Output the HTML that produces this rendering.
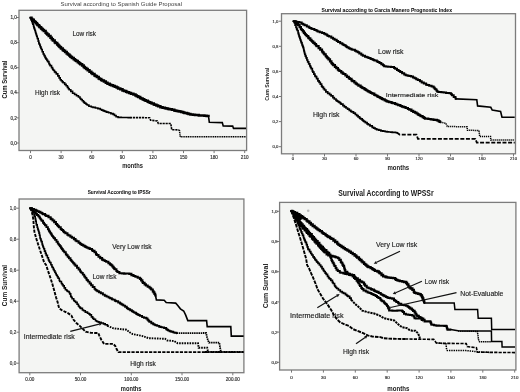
<!DOCTYPE html>
<html><head><meta charset="utf-8"><style>
html,body{margin:0;padding:0;background:#fff;}
svg{display:block;filter:blur(0.3px);}
</style></head><body>
<svg width="520" height="392" viewBox="0 0 520 392" font-family="Liberation Sans, sans-serif">
<rect width="520" height="392" fill="#fff"/>
<rect x="19.0" y="10.3" width="227.6" height="140.2" fill="#f4f5f3" stroke="#7c7c7c" stroke-width="1.3"/>
<line x1="16.4" y1="143.0" x2="19.0" y2="143.0" stroke="#777" stroke-width="1"/>
<text x="16.8" y="144.6" font-size="4.6" font-weight="normal" fill="#3a3a3a" text-anchor="end" stroke="#3a3a3a" stroke-width="0.18">0,0</text>
<line x1="16.4" y1="117.9" x2="19.0" y2="117.9" stroke="#777" stroke-width="1"/>
<text x="16.8" y="119.5" font-size="4.6" font-weight="normal" fill="#3a3a3a" text-anchor="end" stroke="#3a3a3a" stroke-width="0.18">0,2</text>
<line x1="16.4" y1="92.8" x2="19.0" y2="92.8" stroke="#777" stroke-width="1"/>
<text x="16.8" y="94.39999999999999" font-size="4.6" font-weight="normal" fill="#3a3a3a" text-anchor="end" stroke="#3a3a3a" stroke-width="0.18">0,4</text>
<line x1="16.4" y1="67.7" x2="19.0" y2="67.7" stroke="#777" stroke-width="1"/>
<text x="16.8" y="69.3" font-size="4.6" font-weight="normal" fill="#3a3a3a" text-anchor="end" stroke="#3a3a3a" stroke-width="0.18">0,6</text>
<line x1="16.4" y1="42.6" x2="19.0" y2="42.6" stroke="#777" stroke-width="1"/>
<text x="16.8" y="44.199999999999996" font-size="4.6" font-weight="normal" fill="#3a3a3a" text-anchor="end" stroke="#3a3a3a" stroke-width="0.18">0,8</text>
<line x1="16.4" y1="17.5" x2="19.0" y2="17.5" stroke="#777" stroke-width="1"/>
<text x="16.8" y="19.1" font-size="4.6" font-weight="normal" fill="#3a3a3a" text-anchor="end" stroke="#3a3a3a" stroke-width="0.18">1,0</text>
<line x1="30.5" y1="150.5" x2="30.5" y2="153.1" stroke="#777" stroke-width="1"/>
<text x="30.5" y="158.5" font-size="4.6" font-weight="normal" fill="#3a3a3a" text-anchor="middle" stroke="#3a3a3a" stroke-width="0.18">0</text>
<line x1="61.1" y1="150.5" x2="61.1" y2="153.1" stroke="#777" stroke-width="1"/>
<text x="61.1" y="158.5" font-size="4.6" font-weight="normal" fill="#3a3a3a" text-anchor="middle" stroke="#3a3a3a" stroke-width="0.18">30</text>
<line x1="91.7" y1="150.5" x2="91.7" y2="153.1" stroke="#777" stroke-width="1"/>
<text x="91.7" y="158.5" font-size="4.6" font-weight="normal" fill="#3a3a3a" text-anchor="middle" stroke="#3a3a3a" stroke-width="0.18">60</text>
<line x1="122.3" y1="150.5" x2="122.3" y2="153.1" stroke="#777" stroke-width="1"/>
<text x="122.3" y="158.5" font-size="4.6" font-weight="normal" fill="#3a3a3a" text-anchor="middle" stroke="#3a3a3a" stroke-width="0.18">90</text>
<line x1="152.9" y1="150.5" x2="152.9" y2="153.1" stroke="#777" stroke-width="1"/>
<text x="152.9" y="158.5" font-size="4.6" font-weight="normal" fill="#3a3a3a" text-anchor="middle" stroke="#3a3a3a" stroke-width="0.18">120</text>
<line x1="183.5" y1="150.5" x2="183.5" y2="153.1" stroke="#777" stroke-width="1"/>
<text x="183.5" y="158.5" font-size="4.6" font-weight="normal" fill="#3a3a3a" text-anchor="middle" stroke="#3a3a3a" stroke-width="0.18">150</text>
<line x1="214.1" y1="150.5" x2="214.1" y2="153.1" stroke="#777" stroke-width="1"/>
<text x="214.1" y="158.5" font-size="4.6" font-weight="normal" fill="#3a3a3a" text-anchor="middle" stroke="#3a3a3a" stroke-width="0.18">180</text>
<line x1="244.7" y1="150.5" x2="244.7" y2="153.1" stroke="#777" stroke-width="1"/>
<text x="244.70000000000002" y="158.5" font-size="4.6" font-weight="normal" fill="#3a3a3a" text-anchor="middle" stroke="#3a3a3a" stroke-width="0.18">210</text>
<text x="60.4" y="6.2" font-size="6" font-weight="normal" fill="#444" text-anchor="start" textLength="121.6" lengthAdjust="spacingAndGlyphs">Survival according to Spanish Guide Proposal</text>
<text x="7.2" y="79.6" font-size="6.6" font-weight="bold" fill="#222" text-anchor="middle" textLength="38" lengthAdjust="spacingAndGlyphs" transform="rotate(-90 7.2 79.6)">Cum Survival</text>
<text x="132.6" y="167.8" font-size="6.6" font-weight="bold" fill="#222" text-anchor="middle" textLength="20.7" lengthAdjust="spacingAndGlyphs">months</text>
<text x="72.5" y="35.5" font-size="7" font-weight="normal" fill="#222" text-anchor="start" textLength="23.5" lengthAdjust="spacingAndGlyphs" stroke="#222" stroke-width="0.14">Low risk</text>
<text x="35" y="95.2" font-size="7" font-weight="normal" fill="#222" text-anchor="start" textLength="25" lengthAdjust="spacingAndGlyphs" stroke="#222" stroke-width="0.14">High risk</text>
<polyline points="30.4,17.8 31.5,17.8 31.5,18.9 32.3,18.9 32.3,19.8 33.8,19.8 33.8,21.2 34.6,21.2 34.6,22.0 35.9,22.0 35.9,23.3 37.0,23.3 37.0,24.5 37.8,24.5 37.8,25.2 39.1,25.2 39.1,26.5 39.8,26.5 39.8,27.2 41.1,27.2 41.1,28.4 41.9,28.4 41.9,29.1 42.7,29.1 42.7,29.9 43.9,29.9 43.9,31.1 45.6,31.1 45.6,32.7 46.4,32.7 46.4,33.6 47.3,33.6 47.3,34.6 48.7,34.6 48.7,36.0 50.5,36.0 50.5,37.8 51.8,37.8 51.8,39.2 52.9,39.2 52.9,40.4 54.7,40.4 54.7,42.2 55.5,42.2 55.5,43.0 57.2,43.0 57.2,44.6 58.2,44.6 58.2,45.6 59.1,45.6 59.1,46.5 60.0,46.5 60.0,47.3 61.0,47.3 61.0,48.4 62.7,48.4 62.7,50.0 63.7,50.0 63.7,50.8 65.1,50.8 65.1,52.1 66.7,52.1 66.7,53.4 67.9,53.4 67.9,54.4 69.3,54.4 69.3,55.6 70.2,55.6 70.2,56.4 71.0,56.4 71.0,57.1 72.0,57.1 72.0,57.9 73.7,57.9 73.7,59.2 75.0,59.2 75.0,60.2 76.2,60.2 76.2,61.1 77.8,61.1 77.8,62.3 79.1,62.3 79.1,63.3 80.3,63.3 80.3,64.2 82.1,64.2 82.1,65.6 83.7,65.6 83.7,67.0 84.8,67.0 84.8,67.9 86.3,67.9 86.3,69.1 87.7,69.1 87.7,70.3 89.5,70.3 89.5,71.8 91.3,71.8 91.3,73.1 92.5,73.1 92.5,74.0 94.5,74.0 94.5,75.4 95.5,75.4 95.5,76.1 96.9,76.1 96.9,77.1 98.7,77.1 98.7,78.4 99.7,78.4 99.7,79.1 101.2,79.1 101.2,80.1 102.1,80.1 102.1,80.6 103.9,80.6 103.9,81.6 105.8,81.6 105.8,82.8 107.5,82.8 107.5,83.7 109.7,83.7 109.7,84.7 111.1,84.7 111.1,85.3 113.0,85.3 113.0,86.1 114.8,86.1 114.8,86.8 116.6,86.8 116.6,87.6 118.1,87.6 118.1,88.4 120.3,88.4 120.3,89.3 122.5,89.3 122.5,90.4 124.1,90.4 124.1,91.1 126.1,91.1 126.1,91.8 127.1,91.8 127.1,92.2 129.1,92.2 129.1,93.0 131.0,93.0 131.0,93.7 133.4,93.7 133.4,94.6 135.5,94.6 135.5,95.5 136.8,95.5 136.8,96.2 138.3,96.2 138.3,96.9 140.1,96.9 140.1,97.9 141.0,97.9 141.0,98.4 142.6,98.4 142.6,99.2 143.7,99.2 143.7,99.7 144.7,99.7 144.7,100.3 145.7,100.3 145.7,100.8 147.7,100.8 147.7,101.7 148.9,101.7 148.9,102.2 150.1,102.2 150.1,102.7 151.6,102.7 151.6,103.4 153.8,103.4 153.8,104.4 154.8,104.4 154.8,104.8 156.4,104.8 156.4,105.5 158.1,105.5 158.1,106.3 160.4,106.3 160.4,107.2 162.6,107.2 162.6,107.7 164.9,107.7 164.9,108.2 166.3,108.2 166.3,108.6 168.0,108.6 168.0,108.9 169.5,108.9 169.5,109.3 171.9,109.3 171.9,109.8 174.3,109.8 174.3,110.4 175.5,110.4 175.5,110.7 176.8,110.7 176.8,111.0 178.1,111.0 178.1,111.3 179.5,111.3 179.5,111.6 181.2,111.6 181.2,112.0 183.1,112.0 183.1,112.5 184.4,112.5 184.4,112.9 185.4,112.9 185.4,113.1 187.0,113.1 187.0,113.6 188.5,113.6 188.5,114.0 190.4,114.0 190.4,114.4 192.9,114.4 192.9,114.7 195.0,114.7 195.0,114.9 196.8,114.9 196.8,115.1 198.8,115.1 198.8,115.4 200.9,115.4 200.9,115.5 201.9,115.5 201.9,115.6 204.4,115.6 204.4,115.8 206.6,115.8 206.6,116.0 208.5,116.0 208.5,116.1" fill="none" stroke="#000" stroke-width="2.5" stroke-linecap="round" stroke-linejoin="miter"/>
<polyline points="208.5,116.1 209.3,122.3 222.3,122.6 223.2,125.9 232.7,126.1 233.5,128.4 246.0,128.4" fill="none" stroke="#000" stroke-width="1.6" stroke-linecap="butt" stroke-linejoin="miter"/>
<polyline points="30.4,17.8 31.2,17.8 31.2,19.9 31.8,19.9 31.8,21.4 32.4,21.4 32.4,23.0 32.8,23.0 32.8,24.1 33.5,24.1 33.5,26.0 33.8,26.0 33.8,27.0 34.1,27.0 34.1,28.1 34.5,28.1 34.5,29.3 34.9,29.3 34.9,30.5 35.4,30.5 35.4,32.0 35.7,32.0 35.7,33.0 36.0,33.0 36.0,34.0 36.4,34.0 36.4,35.2 36.7,35.2 36.7,36.3 37.2,36.3 37.2,37.8 37.5,37.8 37.5,38.8 38.2,38.8 38.2,41.1 38.8,41.1 38.8,43.0 39.2,43.0 39.2,44.1 39.8,44.1 39.8,45.4 40.3,45.4 40.3,46.9 40.9,46.9 40.9,48.3 41.4,48.3 41.4,49.5 42.2,49.5 42.2,51.7 43.2,51.7 43.2,54.0 44.1,54.0 44.1,55.6 45.0,55.6 45.0,57.1 45.5,57.1 45.5,58.1 46.1,58.1 46.1,59.1 46.9,59.1 46.9,60.4 47.7,60.4 47.7,61.6 48.9,61.6 48.9,63.6 49.6,63.6 49.6,64.7 50.1,64.7 50.1,65.6 51.5,65.6 51.5,67.6 52.6,67.6 52.6,69.2 53.3,69.2 53.3,70.2 54.4,70.2 54.4,71.6 55.1,71.6 55.1,72.4 56.3,72.4 56.3,73.9 57.8,73.9 57.8,75.9 59.1,75.9 59.1,77.9 60.2,77.9 60.2,79.7 61.2,79.7 61.2,80.8 62.3,80.8 62.3,81.9 63.1,81.9 63.1,82.8 64.7,82.8 64.7,84.4 66.1,84.4 66.1,85.7 67.4,85.7 67.4,87.4 68.4,87.4 68.4,88.7 69.2,88.7 69.2,89.7 70.8,89.7 70.8,91.4 72.6,91.4 72.6,93.2 74.6,93.2 74.6,94.5 76.5,94.5 76.5,95.8 78.4,95.8 78.4,97.0 80.0,97.0 80.0,98.5 80.9,98.5 80.9,99.5 82.2,99.5 82.2,100.8 83.4,100.8 83.4,101.9 84.1,101.9 84.1,102.6 84.9,102.6 84.9,103.3 86.1,103.3 86.1,104.2 87.2,104.2 87.2,105.0 88.9,105.0 88.9,106.3 91.3,106.3 91.3,107.0 93.0,107.0 93.0,107.4 95.4,107.4 95.4,108.0 97.9,108.0 97.9,108.6 100.3,108.6 100.3,109.5 101.7,109.5 101.7,110.1 103.0,110.1 103.0,110.6 104.2,110.6 104.2,111.1 105.5,111.1 105.5,111.6 106.7,111.6 106.7,112.1 108.6,112.1 108.6,112.8 110.9,112.8 110.9,113.6 113.1,113.6 113.1,114.4 114.5,114.4 114.5,115.5 116.1,115.5 116.1,116.7 118.1,116.7 118.1,117.4 119.3,117.4 119.3,117.4 121.3,117.4 121.3,117.5 123.8,117.5 123.8,117.5 126.0,117.5 126.0,117.5 128.2,117.5 128.2,117.6 130.0,117.6 130.0,117.6 130.0,117.6 130.0,117.6" fill="none" stroke="#000" stroke-width="1.6" stroke-linecap="round" stroke-linejoin="miter"/>
<polyline points="130.0,117.6 149.6,117.7 150.6,120.2 157.3,121.0 158.3,123.5 170.8,123.5 171.7,129.6 179.4,130.0" fill="none" stroke="#000" stroke-width="1.6" stroke-linecap="butt" stroke-linejoin="miter" stroke-dasharray="2.2,0.8"/>
<polyline points="179.4,130.0 180.2,136.7 246.0,136.7" fill="none" stroke="#000" stroke-width="1.5" stroke-linecap="butt" stroke-linejoin="miter" stroke-dasharray="1.2,0.6"/>
<rect x="281.5" y="13.7" width="234.0" height="140.10000000000002" fill="#f4f5f3" stroke="#7c7c7c" stroke-width="1.3"/>
<line x1="278.9" y1="146.7" x2="281.5" y2="146.7" stroke="#777" stroke-width="1"/>
<text x="278.4" y="148.29999999999998" font-size="4.2" font-weight="normal" fill="#3a3a3a" text-anchor="end" stroke="#3a3a3a" stroke-width="0.18">0,0</text>
<line x1="278.9" y1="121.6" x2="281.5" y2="121.6" stroke="#777" stroke-width="1"/>
<text x="278.4" y="123.19999999999999" font-size="4.2" font-weight="normal" fill="#3a3a3a" text-anchor="end" stroke="#3a3a3a" stroke-width="0.18">0,2</text>
<line x1="278.9" y1="96.5" x2="281.5" y2="96.5" stroke="#777" stroke-width="1"/>
<text x="278.4" y="98.09999999999998" font-size="4.2" font-weight="normal" fill="#3a3a3a" text-anchor="end" stroke="#3a3a3a" stroke-width="0.18">0,4</text>
<line x1="278.9" y1="71.4" x2="281.5" y2="71.4" stroke="#777" stroke-width="1"/>
<text x="278.4" y="72.99999999999999" font-size="4.2" font-weight="normal" fill="#3a3a3a" text-anchor="end" stroke="#3a3a3a" stroke-width="0.18">0,6</text>
<line x1="278.9" y1="46.3" x2="281.5" y2="46.3" stroke="#777" stroke-width="1"/>
<text x="278.4" y="47.899999999999984" font-size="4.2" font-weight="normal" fill="#3a3a3a" text-anchor="end" stroke="#3a3a3a" stroke-width="0.18">0,8</text>
<line x1="278.9" y1="21.2" x2="281.5" y2="21.2" stroke="#777" stroke-width="1"/>
<text x="278.4" y="22.79999999999999" font-size="4.2" font-weight="normal" fill="#3a3a3a" text-anchor="end" stroke="#3a3a3a" stroke-width="0.18">1,0</text>
<line x1="293.0" y1="153.8" x2="293.0" y2="156.4" stroke="#777" stroke-width="1"/>
<text x="293.0" y="159.6" font-size="4.2" font-weight="normal" fill="#3a3a3a" text-anchor="middle" stroke="#3a3a3a" stroke-width="0.18">0</text>
<line x1="324.5" y1="153.8" x2="324.5" y2="156.4" stroke="#777" stroke-width="1"/>
<text x="324.5" y="159.6" font-size="4.2" font-weight="normal" fill="#3a3a3a" text-anchor="middle" stroke="#3a3a3a" stroke-width="0.18">30</text>
<line x1="356.0" y1="153.8" x2="356.0" y2="156.4" stroke="#777" stroke-width="1"/>
<text x="356.0" y="159.6" font-size="4.2" font-weight="normal" fill="#3a3a3a" text-anchor="middle" stroke="#3a3a3a" stroke-width="0.18">60</text>
<line x1="387.5" y1="153.8" x2="387.5" y2="156.4" stroke="#777" stroke-width="1"/>
<text x="387.5" y="159.6" font-size="4.2" font-weight="normal" fill="#3a3a3a" text-anchor="middle" stroke="#3a3a3a" stroke-width="0.18">90</text>
<line x1="419.0" y1="153.8" x2="419.0" y2="156.4" stroke="#777" stroke-width="1"/>
<text x="419.0" y="159.6" font-size="4.2" font-weight="normal" fill="#3a3a3a" text-anchor="middle" stroke="#3a3a3a" stroke-width="0.18">120</text>
<line x1="450.5" y1="153.8" x2="450.5" y2="156.4" stroke="#777" stroke-width="1"/>
<text x="450.5" y="159.6" font-size="4.2" font-weight="normal" fill="#3a3a3a" text-anchor="middle" stroke="#3a3a3a" stroke-width="0.18">150</text>
<line x1="482.0" y1="153.8" x2="482.0" y2="156.4" stroke="#777" stroke-width="1"/>
<text x="482.0" y="159.6" font-size="4.2" font-weight="normal" fill="#3a3a3a" text-anchor="middle" stroke="#3a3a3a" stroke-width="0.18">180</text>
<line x1="513.5" y1="153.8" x2="513.5" y2="156.4" stroke="#777" stroke-width="1"/>
<text x="513.5" y="159.6" font-size="4.2" font-weight="normal" fill="#3a3a3a" text-anchor="middle" stroke="#3a3a3a" stroke-width="0.18">210</text>
<text x="321.5" y="12.1" font-size="5.2" font-weight="bold" fill="#111" text-anchor="start" textLength="130.5" lengthAdjust="spacingAndGlyphs" stroke="#111" stroke-width="0.05">Survival according to Garcia Manero Prognostic Index</text>
<text x="269.5" y="84.2" font-size="5.4" font-weight="bold" fill="#222" text-anchor="middle" textLength="33" lengthAdjust="spacingAndGlyphs" transform="rotate(-90 269.5 84.2)">Cum Survival</text>
<text x="398.3" y="169.5" font-size="6.4" font-weight="bold" fill="#222" text-anchor="middle" textLength="21.8" lengthAdjust="spacingAndGlyphs">months</text>
<text x="378.1" y="54.2" font-size="7" font-weight="normal" fill="#222" text-anchor="start" textLength="25.4" lengthAdjust="spacingAndGlyphs" stroke="#222" stroke-width="0.14">Low risk</text>
<text x="385.7" y="96.8" font-size="6.2" font-weight="normal" fill="#222" text-anchor="start" textLength="52.7" lengthAdjust="spacingAndGlyphs" stroke="#222" stroke-width="0.14">Intermediate risk</text>
<text x="312.9" y="116.8" font-size="7" font-weight="normal" fill="#222" text-anchor="start" textLength="26.6" lengthAdjust="spacingAndGlyphs" stroke="#222" stroke-width="0.14">High risk</text>
<polyline points="293.5,21.3 295.7,21.3 295.7,21.8 297.2,21.8 297.2,22.1 299.4,22.1 299.4,22.6 301.7,22.6 301.7,23.7 303.2,23.7 303.2,24.5 304.6,24.5 304.6,25.3 306.8,25.3 306.8,26.4 308.8,26.4 308.8,27.4 309.9,27.4 309.9,27.9 311.0,27.9 311.0,28.4 312.2,28.4 312.2,28.9 314.4,28.9 314.4,29.9 316.5,29.9 316.5,30.8 317.6,30.8 317.6,31.4 319.7,31.4 319.7,32.3 322.1,32.3 322.1,33.1 324.1,33.1 324.1,33.8 325.5,33.8 325.5,34.4 327.1,34.4 327.1,35.4 328.2,35.4 328.2,35.9 329.1,35.9 329.1,36.4 331.3,36.4 331.3,37.8 333.0,37.8 333.0,38.8 334.6,38.8 334.6,39.8 336.7,39.8 336.7,41.1 338.1,41.1 338.1,42.0 340.2,42.0 340.2,43.2 342.3,43.2 342.3,44.3 343.5,44.3 343.5,44.9 344.7,44.9 344.7,45.6 345.9,45.6 345.9,46.4 347.0,46.4 347.0,47.2 348.6,47.2 348.6,48.3 349.9,48.3 349.9,48.8 351.5,48.8 351.5,49.4 352.6,49.4 352.6,49.8 354.9,49.8 354.9,50.8 356.3,50.8 356.3,51.4 357.8,51.4 357.8,52.3 359.3,52.3 359.3,53.6 361.3,53.6 361.3,54.8 362.8,54.8 362.8,55.7 365.0,55.7 365.0,56.7 366.7,56.7 366.7,57.3 368.4,57.3 368.4,57.9 370.2,57.9 370.2,58.6 371.1,58.6 371.1,59.0 372.7,59.0 372.7,59.7 373.9,59.7 373.9,60.2 374.8,60.2 374.8,60.6 376.8,60.6 376.8,61.6 378.0,61.6 378.0,62.1 379.5,62.1 379.5,63.0 381.3,63.0 381.3,64.2 382.9,64.2 382.9,65.3 384.1,65.3 384.1,66.2 385.8,66.2 385.8,66.6 387.7,66.6 387.7,66.7 390.0,66.7 390.0,66.8 391.1,66.8 391.1,66.9 393.0,66.9 393.0,67.0 394.1,67.0 394.1,67.9 395.2,67.9 395.2,68.8 397.0,68.8 397.0,70.1 398.6,70.1 398.6,71.1 400.2,71.1 400.2,72.0 402.1,72.0 402.1,73.2 404.2,73.2 404.2,74.4 405.7,74.4 405.7,75.2 407.6,75.2 407.6,75.7 409.4,75.7 409.4,76.1 411.1,76.1 411.1,76.6 413.0,76.6 413.0,77.6 414.6,77.6 414.6,78.3 416.2,78.3 416.2,79.2 417.8,79.2 417.8,80.0 419.9,80.0 419.9,81.3 421.7,81.3 421.7,82.4 423.8,82.4 423.8,83.6 426.1,83.6 426.1,84.7 427.4,84.7 427.4,85.1 429.2,85.1 429.2,85.7 431.6,85.7 431.6,86.5 433.6,86.5 433.6,87.5 434.5,87.5 434.5,88.4 435.2,88.4 435.2,89.3 436.4,89.3 436.4,90.6 437.1,90.6 437.1,91.4 438.3,91.4 438.3,92.0 439.4,92.0 439.4,92.1 441.4,92.1 441.4,92.3 443.7,92.3 443.7,92.6 446.1,92.6 446.1,92.9 447.3,92.9 447.3,93.0 449.5,93.0 449.5,93.2 451.1,93.2 451.1,94.3 452.0,94.3 452.0,95.2 453.7,95.2 453.7,96.9 455.5,96.9 455.5,98.6 455.8,98.6 455.8,98.9" fill="none" stroke="#000" stroke-width="2.0" stroke-linecap="round" stroke-linejoin="miter"/>
<polyline points="455.8,98.9 476.8,99.8 477.6,105.9 490.8,107.3 492.2,110.1 500.6,111.5 502.0,117.2 514.7,117.2" fill="none" stroke="#000" stroke-width="1.6" stroke-linecap="butt" stroke-linejoin="miter"/>
<polyline points="293.5,21.3 295.5,21.3 295.5,22.8 296.8,22.8 296.8,23.8 298.1,23.8 298.1,25.1 299.6,25.1 299.6,27.1 300.9,27.1 300.9,29.0 301.7,29.0 301.7,30.0 302.8,30.0 302.8,31.4 303.9,31.4 303.9,32.8 304.9,32.8 304.9,34.0 305.7,34.0 305.7,35.0 306.7,35.0 306.7,36.1 308.2,36.1 308.2,37.7 308.9,37.7 308.9,38.4 310.3,38.4 310.3,39.8 311.5,39.8 311.5,41.0 312.2,41.0 312.2,41.7 313.3,41.7 313.3,42.8 314.7,42.8 314.7,44.2 316.0,44.2 316.0,45.5 316.7,45.5 316.7,46.2 318.6,46.2 318.6,48.1 320.2,48.1 320.2,49.7 322.0,49.7 322.0,51.5 322.7,51.5 322.7,52.4 323.6,52.4 323.6,53.5 324.3,53.5 324.3,54.3 325.7,54.3 325.7,56.1 326.6,56.1 326.6,57.2 327.4,57.2 327.4,58.1 328.5,58.1 328.5,59.4 330.0,59.4 330.0,61.3 331.4,61.3 331.4,63.1 332.3,63.1 332.3,64.2 333.2,64.2 333.2,65.1 334.9,65.1 334.9,66.9 336.3,66.9 336.3,68.2 337.9,68.2 337.9,69.6 338.7,69.6 338.7,70.3 339.6,70.3 339.6,71.0 341.2,71.0 341.2,72.3 342.6,72.3 342.6,73.3 343.5,73.3 343.5,74.0 345.4,74.0 345.4,75.5 347.0,75.5 347.0,76.8 348.8,76.8 348.8,78.2 349.7,78.2 349.7,78.9 351.5,78.9 351.5,80.4 352.4,80.4 352.4,81.1 354.3,81.1 354.3,82.5 355.7,82.5 355.7,83.6 356.9,83.6 356.9,84.5 358.4,84.5 358.4,85.6 360.6,85.6 360.6,86.9 361.8,86.9 361.8,87.6 362.8,87.6 362.8,88.2 364.4,88.2 364.4,89.2 365.6,89.2 365.6,89.9 366.6,89.9 366.6,90.5 367.7,90.5 367.7,91.1 368.6,91.1 368.6,91.7 369.8,91.7 369.8,92.3 371.1,92.3 371.1,93.0 372.4,93.0 372.4,93.7 374.3,93.7 374.3,94.8 375.6,94.8 375.6,95.5 377.2,95.5 377.2,96.4 378.3,96.4 378.3,97.0 379.7,97.0 379.7,97.7 380.6,97.7 380.6,98.2 381.8,98.2 381.8,98.9 382.8,98.9 382.8,99.3 384.7,99.3 384.7,100.3 386.3,100.3 386.3,101.2 387.5,101.2 387.5,101.7 389.2,101.7 389.2,102.2 391.6,102.2 391.6,102.9 392.7,102.9 392.7,103.2 395.0,103.2 395.0,103.9 396.5,103.9 396.5,104.5 398.2,104.5 398.2,105.1 400.4,105.1 400.4,106.0 401.9,106.0 401.9,106.6 403.6,106.6 403.6,107.2 405.6,107.2 405.6,108.0 407.9,108.0 407.9,109.0 409.3,109.0 409.3,109.7 411.4,109.7 411.4,110.8 413.2,110.8 413.2,111.8 415.0,111.8 415.0,112.7 416.5,112.7 416.5,113.5 417.8,113.5 417.8,114.3 418.7,114.3 418.7,114.9 419.8,114.9 419.8,115.5 420.7,115.5 420.7,116.1 422.6,116.1 422.6,117.2 423.8,117.2 423.8,117.9 424.9,117.9 424.9,118.6 426.0,118.6 426.0,118.7 428.3,118.7 428.3,119.0 430.7,119.0 430.7,119.3 432.8,119.3 432.8,119.6 434.2,119.6 434.2,119.8 435.6,119.8 435.6,119.9 436.9,119.9 436.9,120.4 438.5,120.4 438.5,121.2 439.6,121.2 439.6,121.8 440.3,121.8 440.3,122.2" fill="none" stroke="#000" stroke-width="2.2" stroke-linecap="round" stroke-linejoin="miter"/>
<polyline points="440.3,122.2 445.9,123.3 447.3,126.5 467.0,126.8 467.5,130.2 479.0,130.5 479.7,136.5 490.5,136.5 490.8,140.0 514.7,140.0" fill="none" stroke="#000" stroke-width="1.5" stroke-linecap="butt" stroke-linejoin="miter" stroke-dasharray="1.2,0.8"/>
<polyline points="293.9,21.3 294.3,21.3 294.3,22.7 295.1,22.7 295.1,25.1 296.0,25.1 296.0,27.5 296.7,27.5 296.7,29.2 297.2,29.2 297.2,30.5 298.1,30.5 298.1,32.9 298.5,32.9 298.5,34.3 299.0,34.3 299.0,35.8 299.3,35.8 299.3,36.8 299.8,36.8 299.8,38.3 300.3,38.3 300.3,40.0 300.9,40.0 300.9,41.7 301.4,41.7 301.4,42.9 302.0,42.9 302.0,44.6 302.4,44.6 302.4,45.6 302.9,45.6 302.9,46.9 303.3,46.9 303.3,48.0 303.7,48.0 303.7,49.5 303.9,49.5 303.9,50.6 304.2,50.6 304.2,51.6 304.5,51.6 304.5,53.0 304.8,53.0 304.8,54.4 305.4,54.4 305.4,56.2 306.1,56.2 306.1,57.9 306.9,57.9 306.9,60.0 307.7,60.0 307.7,61.8 308.7,61.8 308.7,63.8 309.8,63.8 309.8,65.9 310.5,65.9 310.5,67.4 311.2,67.4 311.2,68.7 312.3,68.7 312.3,71.0 312.9,71.0 312.9,72.1 313.9,72.1 313.9,74.1 314.9,74.1 314.9,75.8 315.5,75.8 315.5,76.7 316.6,76.7 316.6,78.7 317.9,78.7 317.9,80.8 319.1,80.8 319.1,82.4 320.3,82.4 320.3,84.2 321.6,84.2 321.6,86.1 322.3,86.1 322.3,87.1 323.4,87.1 323.4,88.6 324.5,88.6 324.5,90.0 325.9,90.0 325.9,91.9 327.7,91.9 327.7,93.3 329.6,93.3 329.6,94.7 331.1,94.7 331.1,95.8 332.9,95.8 332.9,97.6 334.3,97.6 334.3,99.0 336.0,99.0 336.0,100.3 337.1,100.3 337.1,101.1 338.0,101.1 338.0,101.7 339.0,101.7 339.0,102.4 340.3,102.4 340.3,103.3 341.1,103.3 341.1,104.1 342.9,104.1 342.9,105.6 344.4,105.6 344.4,106.8 346.0,106.8 346.0,108.0 347.6,108.0 347.6,109.2 349.3,109.2 349.3,110.4 350.8,110.4 350.8,111.3 351.7,111.3 351.7,111.9 353.5,111.9 353.5,113.2 355.3,113.2 355.3,114.5 356.7,114.5 356.7,115.6 358.1,115.6 358.1,116.9 359.6,116.9 359.6,118.2 360.5,118.2 360.5,118.9 362.2,118.9 362.2,120.2 363.3,120.2 363.3,121.1 364.2,121.1 364.2,121.7 365.4,121.7 365.4,122.6 367.1,122.6 367.1,123.9 368.2,123.9 368.2,124.7 370.0,124.7 370.0,125.9 372.2,125.9 372.2,127.3 373.7,127.3 373.7,128.1 375.2,128.1 375.2,128.8 376.7,128.8 376.7,129.6 378.8,129.6 378.8,130.2 380.9,130.2 380.9,130.8 382.9,130.8 382.9,131.1 384.9,131.1 384.9,131.5 386.0,131.5 386.0,131.7 387.2,131.7 387.2,131.9 388.6,131.9 388.6,132.0 390.8,132.0 390.8,132.2 392.2,132.2 392.2,132.3 394.2,132.3 394.2,132.4 395.2,132.4 395.2,132.5 396.3,132.5 396.3,132.6 396.8,132.6 396.8,132.6" fill="none" stroke="#000" stroke-width="1.7" stroke-linecap="round" stroke-linejoin="miter"/>
<polyline points="396.8,132.6 399.6,134.6 416.5,134.6 417.9,138.8 475.4,138.8 476.8,142.6 514.7,142.6" fill="none" stroke="#000" stroke-width="1.8" stroke-linecap="butt" stroke-linejoin="miter" stroke-dasharray="4,1.6"/>
<rect x="19.1" y="199.0" width="224.8" height="173.7" fill="#f4f5f3" stroke="#7c7c7c" stroke-width="1.3"/>
<line x1="16.5" y1="363.2" x2="19.1" y2="363.2" stroke="#777" stroke-width="1"/>
<text x="16.2" y="364.8" font-size="4.6" font-weight="normal" fill="#3a3a3a" text-anchor="end" stroke="#3a3a3a" stroke-width="0.18">0,0</text>
<line x1="16.5" y1="332.2" x2="19.1" y2="332.2" stroke="#777" stroke-width="1"/>
<text x="16.2" y="333.8" font-size="4.6" font-weight="normal" fill="#3a3a3a" text-anchor="end" stroke="#3a3a3a" stroke-width="0.18">0,2</text>
<line x1="16.5" y1="301.2" x2="19.1" y2="301.2" stroke="#777" stroke-width="1"/>
<text x="16.2" y="302.8" font-size="4.6" font-weight="normal" fill="#3a3a3a" text-anchor="end" stroke="#3a3a3a" stroke-width="0.18">0,4</text>
<line x1="16.5" y1="270.2" x2="19.1" y2="270.2" stroke="#777" stroke-width="1"/>
<text x="16.2" y="271.8" font-size="4.6" font-weight="normal" fill="#3a3a3a" text-anchor="end" stroke="#3a3a3a" stroke-width="0.18">0,6</text>
<line x1="16.5" y1="239.2" x2="19.1" y2="239.2" stroke="#777" stroke-width="1"/>
<text x="16.2" y="240.79999999999998" font-size="4.6" font-weight="normal" fill="#3a3a3a" text-anchor="end" stroke="#3a3a3a" stroke-width="0.18">0,8</text>
<line x1="16.5" y1="208.2" x2="19.1" y2="208.2" stroke="#777" stroke-width="1"/>
<text x="16.2" y="209.79999999999998" font-size="4.6" font-weight="normal" fill="#3a3a3a" text-anchor="end" stroke="#3a3a3a" stroke-width="0.18">1,0</text>
<line x1="29.8" y1="372.7" x2="29.8" y2="375.3" stroke="#777" stroke-width="1"/>
<text x="29.8" y="380.6" font-size="4.6" font-weight="normal" fill="#3a3a3a" text-anchor="middle" stroke="#3a3a3a" stroke-width="0.18">0.00</text>
<line x1="80.5" y1="372.7" x2="80.5" y2="375.3" stroke="#777" stroke-width="1"/>
<text x="80.55" y="380.6" font-size="4.6" font-weight="normal" fill="#3a3a3a" text-anchor="middle" stroke="#3a3a3a" stroke-width="0.18">50.00</text>
<line x1="131.3" y1="372.7" x2="131.3" y2="375.3" stroke="#777" stroke-width="1"/>
<text x="131.29999999999998" y="380.6" font-size="4.6" font-weight="normal" fill="#3a3a3a" text-anchor="middle" stroke="#3a3a3a" stroke-width="0.18">100.00</text>
<line x1="182.0" y1="372.7" x2="182.0" y2="375.3" stroke="#777" stroke-width="1"/>
<text x="182.04999999999998" y="380.6" font-size="4.6" font-weight="normal" fill="#3a3a3a" text-anchor="middle" stroke="#3a3a3a" stroke-width="0.18">150.00</text>
<line x1="232.8" y1="372.7" x2="232.8" y2="375.3" stroke="#777" stroke-width="1"/>
<text x="232.79999999999998" y="380.6" font-size="4.6" font-weight="normal" fill="#3a3a3a" text-anchor="middle" stroke="#3a3a3a" stroke-width="0.18">200.00</text>
<text x="87.7" y="194.3" font-size="5.4" font-weight="bold" fill="#111" text-anchor="start" textLength="63" lengthAdjust="spacingAndGlyphs" stroke="#111" stroke-width="0.05">Survival According to IPSSr</text>
<text x="6.7" y="285.5" font-size="6.6" font-weight="bold" fill="#222" text-anchor="middle" textLength="41.3" lengthAdjust="spacingAndGlyphs" transform="rotate(-90 6.7 285.5)">Cum Survival</text>
<text x="131.2" y="391.2" font-size="6.6" font-weight="bold" fill="#222" text-anchor="middle" textLength="20.7" lengthAdjust="spacingAndGlyphs">months</text>
<text x="112.2" y="248.8" font-size="7" font-weight="normal" fill="#222" text-anchor="start" textLength="39.4" lengthAdjust="spacingAndGlyphs" stroke="#222" stroke-width="0.14">Very Low risk</text>
<text x="92.5" y="278.9" font-size="7" font-weight="normal" fill="#222" text-anchor="start" textLength="23.9" lengthAdjust="spacingAndGlyphs" stroke="#222" stroke-width="0.14">Low risk</text>
<text x="23.8" y="339.1" font-size="7" font-weight="normal" fill="#222" text-anchor="start" textLength="51" lengthAdjust="spacingAndGlyphs" stroke="#222" stroke-width="0.14">Intermediate risk</text>
<text x="130.2" y="365.5" font-size="7" font-weight="normal" fill="#222" text-anchor="start" textLength="25.7" lengthAdjust="spacingAndGlyphs" stroke="#222" stroke-width="0.14">High risk</text>
<polyline points="30.0,208.3 31.9,208.3 31.9,209.0 33.9,209.0 33.9,209.8 35.8,209.8 35.8,210.6 37.2,210.6 37.2,211.2 38.8,211.2 38.8,211.9 40.4,211.9 40.4,212.7 41.9,212.7 41.9,213.5 43.0,213.5 43.0,214.1 45.1,214.1 45.1,215.3 46.2,215.3 46.2,215.9 48.5,215.9 48.5,217.2 50.6,217.2 50.6,218.6 51.3,218.6 51.3,219.3 52.6,219.3 52.6,220.5 54.2,220.5 54.2,222.1 55.9,222.1 55.9,224.0 57.1,224.0 57.1,225.3 58.1,225.3 58.1,226.3 59.0,226.3 59.0,227.2 60.7,227.2 60.7,229.0 61.7,229.0 61.7,230.0 63.1,230.0 63.1,231.3 64.0,231.3 64.0,232.2 65.4,232.2 65.4,233.3 67.4,233.3 67.4,234.8 68.5,234.8 68.5,235.5 70.4,235.5 70.4,236.7 71.9,236.7 71.9,237.7 73.9,237.7 73.9,239.1 75.5,239.1 75.5,240.5 76.6,240.5 76.6,241.3 78.6,241.3 78.6,242.7 80.1,242.7 80.1,243.7 80.9,243.7 80.9,244.3 81.8,244.3 81.8,244.9 83.3,244.9 83.3,245.8 84.8,245.8 84.8,246.6 86.1,246.6 86.1,247.3 87.2,247.3 87.2,247.8 88.6,247.8 88.6,248.4 90.0,248.4 90.0,249.0 92.0,249.0 92.0,250.3 92.8,250.3 92.8,250.9 94.5,250.9 94.5,252.3 96.0,252.3 96.0,254.1 96.7,254.1 96.7,255.0 98.5,255.0 98.5,256.7 100.2,256.7 100.2,258.1 102.1,258.1 102.1,259.6 103.3,259.6 103.3,260.3 104.8,260.3 104.8,261.0 106.2,261.0 106.2,261.8 108.4,261.8 108.4,263.2 109.9,263.2 109.9,264.4 111.2,264.4 111.2,265.3 112.3,265.3 112.3,266.5 113.3,266.5 113.3,267.6 114.0,267.6 114.0,268.4 114.7,268.4 114.7,269.3 116.4,269.3 116.4,271.0 117.4,271.0 117.4,272.0 119.4,272.0 119.4,273.2 120.8,273.2 120.8,273.3 122.2,273.3 122.2,273.4 124.1,273.4 124.1,273.6 125.4,273.6 125.4,273.5 126.9,273.5 126.9,273.5 129.3,273.5 129.3,273.9 131.4,273.9 131.4,275.1 133.5,275.1 133.5,276.0 135.4,276.0 135.4,276.7 137.7,276.7 137.7,277.7 139.9,277.7 139.9,278.9 141.1,278.9 141.1,280.4 142.4,280.4 142.4,282.1 143.0,282.1 143.0,282.9 144.6,282.9 144.6,284.4 145.9,284.4 145.9,285.5 147.7,285.5 147.7,286.8 149.5,286.8 149.5,287.8 150.6,287.8 150.6,288.6 151.3,288.6 151.3,289.5 152.8,289.5 152.8,291.4 153.6,291.4 153.6,292.4 154.4,292.4 154.4,293.9 155.2,293.9 155.2,295.2 155.6,295.2 155.6,296.0" fill="none" stroke="#000" stroke-width="2.1" stroke-linecap="round" stroke-linejoin="miter"/>
<polyline points="155.6,296.0 156.4,299.9 164.2,300.2 166.2,302.5 175.7,303.1 177.8,305.4 180.4,308.8 183.7,311.0 185.7,315.1 187.8,320.6 206.6,320.6 207.2,326.6 230.8,326.6 231.3,336.1 243.6,336.1" fill="none" stroke="#000" stroke-width="1.6" stroke-linecap="butt" stroke-linejoin="miter"/>
<polyline points="30.0,208.3 31.7,208.3 31.7,209.7 33.6,209.7 33.6,211.4 34.5,211.4 34.5,212.4 35.9,212.4 35.9,213.9 37.0,213.9 37.0,215.0 38.3,215.0 38.3,216.3 39.4,216.3 39.4,217.5 40.1,217.5 40.1,218.6 40.8,218.6 40.8,219.6 41.6,219.6 41.6,220.7 43.0,220.7 43.0,222.7 44.1,222.7 44.1,224.1 45.0,224.1 45.0,225.2 46.4,225.2 46.4,227.1 47.9,227.1 47.9,229.3 48.9,229.3 48.9,230.7 49.5,230.7 49.5,231.7 50.2,231.7 50.2,232.9 50.8,232.9 50.8,233.8 51.6,233.8 51.6,235.1 52.2,235.1 52.2,236.1 53.1,236.1 53.1,237.2 53.9,237.2 53.9,238.3 55.1,238.3 55.1,239.9 56.5,239.9 56.5,241.8 57.8,241.8 57.8,243.6 58.8,243.6 58.8,244.9 59.8,244.9 59.8,246.2 60.9,246.2 60.9,247.7 61.8,247.7 61.8,249.0 62.7,249.0 62.7,250.3 63.4,250.3 63.4,251.1 64.3,251.1 64.3,252.3 65.8,252.3 65.8,254.3 66.6,254.3 66.6,255.3 67.7,255.3 67.7,256.7 68.9,256.7 68.9,258.2 70.5,258.2 70.5,260.0 71.4,260.0 71.4,261.1 72.3,261.1 72.3,262.1 73.2,262.1 73.2,263.2 74.3,263.2 74.3,264.5 75.4,264.5 75.4,265.8 77.0,265.8 77.0,267.7 78.6,267.7 78.6,269.5 80.1,269.5 80.1,271.3 80.8,271.3 80.8,272.1 81.5,272.1 81.5,272.9 82.8,272.9 82.8,274.6 84.2,274.6 84.2,276.5 85.3,276.5 85.3,277.9 86.4,277.9 86.4,279.5 87.1,279.5 87.1,280.3 88.1,280.3 88.1,281.6 89.6,281.6 89.6,283.5 91.1,283.5 91.1,285.2 92.7,285.2 92.7,287.0 94.5,287.0 94.5,288.9 95.4,288.9 95.4,289.9 96.4,289.9 96.4,290.5 97.4,290.5 97.4,291.2 99.0,291.2 99.0,292.2 100.8,292.2 100.8,293.3 102.9,293.3 102.9,294.6 104.8,294.6 104.8,295.7 106.6,295.7 106.6,296.6 108.6,296.6 108.6,297.6 110.1,297.6 110.1,298.3 111.8,298.3 111.8,299.2 112.8,299.2 112.8,299.6 114.8,299.6 114.8,300.7 116.0,300.7 116.0,301.3 118.2,301.3 118.2,302.5 120.0,302.5 120.0,303.5 121.3,303.5 121.3,304.2 122.3,304.2 122.3,304.8 123.4,304.8 123.4,305.6 125.1,305.6 125.1,306.8 126.8,306.8 126.8,308.0 127.7,308.0 127.7,308.7 128.7,308.7 128.7,309.3 130.2,309.3 130.2,310.3 131.9,310.3 131.9,311.3 133.3,311.3 133.3,312.1 134.5,312.1 134.5,312.8 136.1,312.8 136.1,313.8 137.0,313.8 137.0,314.3 138.3,314.3 138.3,315.0 139.8,315.0 139.8,315.9 142.1,315.9 142.1,317.1 144.0,317.1 144.0,317.7 146.3,317.7 146.3,318.5 147.5,318.5 147.5,319.7 148.4,319.7 148.4,320.8 149.3,320.8 149.3,321.8 151.3,321.8 151.3,323.3 153.2,323.3 153.2,324.2 154.6,324.2 154.6,324.9 155.5,324.9 155.5,325.3 157.2,325.3 157.2,325.9 159.2,325.9 159.2,326.7 160.8,326.7 160.8,327.1 162.1,327.1 162.1,327.4 164.1,327.4 164.1,328.0 166.2,328.0 166.2,329.3 167.4,329.3 167.4,330.0 168.3,330.0 168.3,330.6 169.7,330.6 169.7,331.2 171.3,331.2 171.3,331.7 173.2,331.7 173.2,332.4 174.5,332.4 174.5,332.7 176.5,332.7 176.5,333.2" fill="none" stroke="#000" stroke-width="1.9" stroke-linecap="round" stroke-linejoin="miter"/>
<polyline points="176.5,333.2 206.1,333.0 207.2,338.0 208.9,342.6 219.3,342.6 220.4,349.5 221.0,352.0" fill="none" stroke="#000" stroke-width="1.8" stroke-linecap="butt" stroke-linejoin="miter" stroke-dasharray="1.5,0.7"/>
<polyline points="30.0,208.3 31.3,208.3 31.3,210.1 32.3,210.1 32.3,211.6 32.9,211.6 32.9,212.7 34.1,212.7 34.1,215.0 34.5,215.0 34.5,216.4 35.2,216.4 35.2,218.6 35.6,218.6 35.6,220.0 35.8,220.0 35.8,221.3 36.2,221.3 36.2,223.5 36.4,223.5 36.4,224.9 37.2,224.9 37.2,227.3 37.7,227.3 37.7,229.0 38.2,229.0 38.2,230.3 38.6,230.3 38.6,231.5 39.0,231.5 39.0,233.1 39.5,233.1 39.5,235.2 40.0,235.2 40.0,237.6 40.3,237.6 40.3,238.8 40.9,238.8 40.9,240.4 41.3,240.4 41.3,241.6 42.1,241.6 42.1,244.0 42.5,244.0 42.5,245.2 42.9,245.2 42.9,246.2 43.2,246.2 43.2,247.3 43.7,247.3 43.7,248.8 44.5,248.8 44.5,251.1 45.4,251.1 45.4,253.4 46.2,253.4 46.2,255.4 47.4,255.4 47.4,257.7 48.4,257.7 48.4,260.0 49.1,260.0 49.1,261.3 49.7,261.3 49.7,262.5 50.9,262.5 50.9,264.7 51.9,264.7 51.9,266.6 52.4,266.6 52.4,267.5 53.3,267.5 53.3,269.4 54.1,269.4 54.1,270.8 54.9,270.8 54.9,272.2 55.6,272.2 55.6,273.5 56.2,273.5 56.2,274.7 56.7,274.7 56.7,275.5 57.4,275.5 57.4,276.8 58.1,276.8 58.1,278.2 59.3,278.2 59.3,280.5 59.8,280.5 59.8,281.5 61.4,281.5 61.4,283.5 62.2,283.5 62.2,284.6 63.1,284.6 63.1,285.9 64.2,285.9 64.2,287.9 65.4,287.9 65.4,289.8 66.8,289.8 66.8,290.8 67.6,290.8 67.6,291.5 69.1,291.5 69.1,292.5 69.7,292.5 69.7,293.9 70.7,293.9 70.7,296.2 71.3,296.2 71.3,297.3 72.1,297.3 72.1,298.7 73.7,298.7 73.7,300.5 74.5,300.5 74.5,301.3 75.6,301.3 75.6,302.4 77.1,302.4 77.1,304.2 78.4,304.2 78.4,306.0 79.1,306.0 79.1,306.8 79.8,306.8 79.8,307.6 80.6,307.6 80.6,308.4 82.4,308.4 82.4,310.0 83.6,310.0 83.6,310.8 85.3,310.8 85.3,312.1 87.5,312.1 87.5,313.3 88.9,313.3 88.9,313.9 89.9,313.9 89.9,314.9 91.4,314.9 91.4,316.9 92.7,316.9 92.7,318.4 93.8,318.4 93.8,319.3 95.5,319.3 95.5,320.7 96.7,320.7 96.7,321.5 98.1,321.5 98.1,321.9 99.0,321.9 99.0,322.3 101.1,322.3 101.1,323.0 103.4,323.0 103.4,323.9 105.2,323.9 105.2,324.8 107.4,324.8 107.4,325.9" fill="none" stroke="#000" stroke-width="1.6" stroke-linecap="round" stroke-linejoin="miter"/>
<polyline points="107.4,325.9 113.6,328.3 120.4,329.1 126.5,329.7 129.6,332.2 132.7,334.1 141.9,335.9 148.8,338.2 165.0,338.8 167.3,340.5 174.2,341.1 177.7,343.2 198.0,343.2 198.6,347.7 207.2,347.7 208.0,352.0" fill="none" stroke="#000" stroke-width="1.9" stroke-linecap="butt" stroke-linejoin="miter" stroke-dasharray="1.6,1"/>
<polyline points="30.0,208.3 31.1,209.6 32.6,215.0 33.4,220.3 33.7,224.9 34.1,229.5 34.5,232.0 36.1,238.1 38.1,244.2 40.1,250.4 42.2,256.5 44.2,262.6 46.1,265.0 48.1,271.1 50.2,277.2 52.2,283.4 54.2,290.5 56.1,297.5 57.6,302.1 59.1,308.3 62.1,310.3 65.2,311.8 68.3,313.4 71.3,315.4 73.4,319.5 76.4,323.1 79.5,325.6 82.6,328.7 85.6,331.7 90.7,332.8 98.3,333.1 99.3,335.6 101.3,339.7 104.1,343.9 113.3,343.9 115.3,346.0 116.3,348.5 118.4,352.1 243.6,352.1" fill="none" stroke="#000" stroke-width="1.9" stroke-linecap="butt" stroke-linejoin="miter" stroke-dasharray="3.2,1.2"/>
<polyline points="205.0,352.0 243.6,352.0" fill="none" stroke="#000" stroke-width="2.2" stroke-linecap="butt" stroke-linejoin="round" stroke-dasharray="2,0.6"/>
<line x1="70.3" y1="331.4" x2="99.20" y2="324.18" stroke="#111" stroke-width="1.2"/>
<polygon points="102.3,323.4 99.58,325.73 98.81,322.62" fill="#111"/>
<rect x="279.6" y="202.4" width="236.29999999999995" height="167.6" fill="#f4f5f3" stroke="#7c7c7c" stroke-width="1.3"/>
<line x1="277.0" y1="362.3" x2="279.6" y2="362.3" stroke="#777" stroke-width="1"/>
<text x="277.5" y="363.90000000000003" font-size="4.4" font-weight="normal" fill="#3a3a3a" text-anchor="end" stroke="#3a3a3a" stroke-width="0.18">0,0</text>
<line x1="277.0" y1="332.1" x2="279.6" y2="332.1" stroke="#777" stroke-width="1"/>
<text x="277.5" y="333.70000000000005" font-size="4.4" font-weight="normal" fill="#3a3a3a" text-anchor="end" stroke="#3a3a3a" stroke-width="0.18">0,2</text>
<line x1="277.0" y1="301.9" x2="279.6" y2="301.9" stroke="#777" stroke-width="1"/>
<text x="277.5" y="303.5" font-size="4.4" font-weight="normal" fill="#3a3a3a" text-anchor="end" stroke="#3a3a3a" stroke-width="0.18">0,4</text>
<line x1="277.0" y1="271.7" x2="279.6" y2="271.7" stroke="#777" stroke-width="1"/>
<text x="277.5" y="273.30000000000007" font-size="4.4" font-weight="normal" fill="#3a3a3a" text-anchor="end" stroke="#3a3a3a" stroke-width="0.18">0,6</text>
<line x1="277.0" y1="241.5" x2="279.6" y2="241.5" stroke="#777" stroke-width="1"/>
<text x="277.5" y="243.1" font-size="4.4" font-weight="normal" fill="#3a3a3a" text-anchor="end" stroke="#3a3a3a" stroke-width="0.18">0,8</text>
<line x1="277.0" y1="211.3" x2="279.6" y2="211.3" stroke="#777" stroke-width="1"/>
<text x="277.5" y="212.9" font-size="4.4" font-weight="normal" fill="#3a3a3a" text-anchor="end" stroke="#3a3a3a" stroke-width="0.18">1,0</text>
<line x1="291.5" y1="370.0" x2="291.5" y2="372.6" stroke="#777" stroke-width="1"/>
<text x="291.5" y="379.3" font-size="4.4" font-weight="normal" fill="#3a3a3a" text-anchor="middle" stroke="#3a3a3a" stroke-width="0.18">0</text>
<line x1="323.4" y1="370.0" x2="323.4" y2="372.6" stroke="#777" stroke-width="1"/>
<text x="323.39" y="379.3" font-size="4.4" font-weight="normal" fill="#3a3a3a" text-anchor="middle" stroke="#3a3a3a" stroke-width="0.18">30</text>
<line x1="355.3" y1="370.0" x2="355.3" y2="372.6" stroke="#777" stroke-width="1"/>
<text x="355.28" y="379.3" font-size="4.4" font-weight="normal" fill="#3a3a3a" text-anchor="middle" stroke="#3a3a3a" stroke-width="0.18">60</text>
<line x1="387.2" y1="370.0" x2="387.2" y2="372.6" stroke="#777" stroke-width="1"/>
<text x="387.17" y="379.3" font-size="4.4" font-weight="normal" fill="#3a3a3a" text-anchor="middle" stroke="#3a3a3a" stroke-width="0.18">90</text>
<line x1="419.1" y1="370.0" x2="419.1" y2="372.6" stroke="#777" stroke-width="1"/>
<text x="419.06" y="379.3" font-size="4.4" font-weight="normal" fill="#3a3a3a" text-anchor="middle" stroke="#3a3a3a" stroke-width="0.18">120</text>
<line x1="450.9" y1="370.0" x2="450.9" y2="372.6" stroke="#777" stroke-width="1"/>
<text x="450.95" y="379.3" font-size="4.4" font-weight="normal" fill="#3a3a3a" text-anchor="middle" stroke="#3a3a3a" stroke-width="0.18">150</text>
<line x1="482.8" y1="370.0" x2="482.8" y2="372.6" stroke="#777" stroke-width="1"/>
<text x="482.84000000000003" y="379.3" font-size="4.4" font-weight="normal" fill="#3a3a3a" text-anchor="middle" stroke="#3a3a3a" stroke-width="0.18">180</text>
<line x1="514.7" y1="370.0" x2="514.7" y2="372.6" stroke="#777" stroke-width="1"/>
<text x="514.73" y="379.3" font-size="4.4" font-weight="normal" fill="#3a3a3a" text-anchor="middle" stroke="#3a3a3a" stroke-width="0.18">210</text>
<text x="338.3" y="196.2" font-size="9" font-weight="bold" fill="#1a1a1a" text-anchor="start" textLength="95.3" lengthAdjust="spacingAndGlyphs">Survival According to WPSSr</text>
<text x="267.6" y="286" font-size="7" font-weight="bold" fill="#222" text-anchor="middle" textLength="44.7" lengthAdjust="spacingAndGlyphs" transform="rotate(-90 267.6 286)">Cum Survival</text>
<text x="398.3" y="391.2" font-size="6.6" font-weight="bold" fill="#222" text-anchor="middle" textLength="22" lengthAdjust="spacingAndGlyphs">months</text>
<text x="376" y="246.9" font-size="7.3" font-weight="normal" fill="#222" text-anchor="start" textLength="41.2" lengthAdjust="spacingAndGlyphs" stroke="#222" stroke-width="0.14">Very Low risk</text>
<text x="424.5" y="283.9" font-size="7.3" font-weight="normal" fill="#222" text-anchor="start" textLength="24.7" lengthAdjust="spacingAndGlyphs" stroke="#222" stroke-width="0.14">Low risk</text>
<text x="460.2" y="296.1" font-size="7.3" font-weight="normal" fill="#222" text-anchor="start" textLength="43.2" lengthAdjust="spacingAndGlyphs" stroke="#222" stroke-width="0.14">Not-Evaluable</text>
<text x="290.1" y="318.4" font-size="7" font-weight="normal" fill="#222" text-anchor="start" textLength="53.5" lengthAdjust="spacingAndGlyphs" stroke="#222" stroke-width="0.14">Intermediate risk</text>
<text x="342.9" y="353.5" font-size="7.3" font-weight="normal" fill="#222" text-anchor="start" textLength="26.2" lengthAdjust="spacingAndGlyphs" stroke="#222" stroke-width="0.14">High risk</text>
<polygon points="291.6,210.9 299.5,215.2 302.5,219 298.5,221.5 295,220.5" fill="#000"/>
<polyline points="291.3,211.0 292.2,211.0 292.2,211.5 293.4,211.5 293.4,212.2 295.0,212.2 295.0,213.0 297.2,213.0 297.2,214.2 299.4,214.2 299.4,215.4 300.8,215.4 300.8,216.2 302.0,216.2 302.0,217.0 303.3,217.0 303.3,218.1 304.7,218.1 304.7,219.2 306.6,219.2 306.6,220.7 307.6,220.7 307.6,221.5 309.4,221.5 309.4,223.0 310.9,223.0 310.9,224.5 312.7,224.5 312.7,226.0 314.6,226.0 314.6,227.3 316.2,227.3 316.2,228.4 317.4,228.4 317.4,229.3 318.6,229.3 318.6,230.2 319.9,230.2 319.9,231.1 321.8,231.1 321.8,232.4 322.7,232.4 322.7,233.1 323.7,233.1 323.7,233.8 325.5,233.8 325.5,235.1 326.7,235.1 326.7,235.9 327.6,235.9 327.6,236.5 328.5,236.5 328.5,237.0 330.1,237.0 330.1,238.1 331.4,238.1 331.4,238.9 333.4,238.9 333.4,240.5 335.2,240.5 335.2,242.0 337.2,242.0 337.2,243.7 338.3,243.7 338.3,244.6 339.3,244.6 339.3,245.2 340.2,245.2 340.2,245.9 341.6,245.9 341.6,247.0 343.4,247.0 343.4,248.2 344.9,248.2 344.9,249.1 346.1,249.1 346.1,249.7 347.5,249.7 347.5,250.6 349.2,250.6 349.2,251.7 350.9,251.7 350.9,252.8 352.7,252.8 352.7,254.1 354.6,254.1 354.6,255.5 356.2,255.5 356.2,256.7 357.1,256.7 357.1,257.5 358.9,257.5 358.9,259.0 360.0,259.0 360.0,260.0 361.5,260.0 361.5,261.3 362.6,261.3 362.6,262.4 364.1,262.4 364.1,263.9 365.2,263.9 365.2,264.7 366.3,264.7 366.3,265.6 367.4,265.6 367.4,266.5 368.4,266.5 368.4,267.1 370.6,267.1 370.6,268.1 372.3,268.1 372.3,269.1 373.6,269.1 373.6,269.9 374.9,269.9 374.9,270.8 377.4,270.8 377.4,271.5 378.9,271.5 378.9,272.5 379.8,272.5 379.8,273.4 381.5,273.4 381.5,275.0 383.1,275.0 383.1,276.3 385.5,276.3 385.5,277.0 386.7,277.0 386.7,277.3 388.4,277.3 388.4,277.7 390.7,277.7 390.7,277.9 393.0,277.9 393.0,278.1 395.2,278.1 395.2,279.2 396.1,279.2 396.1,279.8 397.4,279.8 397.4,280.4 398.5,280.4 398.5,280.7 399.8,280.7 399.8,281.1 402.3,281.1 402.3,281.6 404.2,281.6 404.2,282.0 406.2,282.0 406.2,283.0 407.1,283.0 407.1,284.3 408.4,284.3 408.4,286.3 409.4,286.3 409.4,287.7 410.6,287.7 410.6,288.5 412.4,288.5 412.4,289.8 413.8,289.8 413.8,291.9 414.5,291.9 414.5,292.9 416.3,292.9 416.3,293.4 418.2,293.4 418.2,293.8 419.5,293.8 419.5,294.1 420.7,294.1 420.7,295.1 421.6,295.1 421.6,296.0 422.1,296.0 422.1,297.2 422.6,297.2 422.6,298.5 423.3,298.5 423.3,300.3 424.1,300.3 424.1,302.2 424.3,302.2 424.3,302.9" fill="none" stroke="#000" stroke-width="2.3" stroke-linecap="round" stroke-linejoin="miter"/>
<polyline points="424.3,302.9 454.2,302.9 454.9,309.4 477.6,309.4 478.2,318.2 491.4,318.2 491.7,329.4 515.0,329.4" fill="none" stroke="#000" stroke-width="1.5" stroke-linecap="butt" stroke-linejoin="miter"/>
<polyline points="291.3,211.0 291.9,211.0 291.9,211.8 292.8,211.8 292.8,213.0 294.1,213.0 294.1,214.7 294.9,214.7 294.9,215.7 295.8,215.7 295.8,216.9 296.6,216.9 296.6,218.0 298.0,218.0 298.0,219.8 299.1,219.8 299.1,221.3 299.8,221.3 299.8,222.1 300.5,222.1 300.5,223.1 301.5,223.1 301.5,224.3 302.7,224.3 302.7,225.8 304.1,225.8 304.1,227.3 304.8,227.3 304.8,228.1 305.7,228.1 305.7,229.1 307.1,229.1 307.1,230.6 308.2,230.6 308.2,231.9 309.1,231.9 309.1,233.0 310.1,233.0 310.1,234.1 311.8,234.1 311.8,236.0 312.8,236.0 312.8,237.1 314.0,237.1 314.0,238.6 315.1,238.6 315.1,239.7 316.2,239.7 316.2,241.0 317.7,241.0 317.7,242.8 319.4,242.8 319.4,244.7 320.5,244.7 320.5,245.9 321.5,245.9 321.5,246.8 323.0,246.8 323.0,248.3 323.9,248.3 323.9,249.3 324.7,249.3 324.7,250.0 326.4,250.0 326.4,251.7 327.6,251.7 327.6,252.9 329.2,252.9 329.2,254.5 330.4,254.5 330.4,255.7 332.6,255.7 332.6,256.4 334.3,256.4 334.3,256.6 335.4,256.6 335.4,257.1 336.4,257.1 336.4,257.5 338.1,257.5 338.1,258.3 339.3,258.3 339.3,259.9 340.8,259.9 340.8,261.9 341.4,261.9 341.4,262.8 342.4,262.8 342.4,264.6 343.2,264.6 343.2,265.9 344.1,265.9 344.1,267.5 344.4,267.5 344.4,268.7 344.8,268.7 344.8,270.1 345.3,270.1 345.3,271.9 347.3,271.9 347.3,273.3 348.3,273.3 348.3,273.9 349.9,273.9 349.9,274.5 352.1,274.5 352.1,275.0 354.1,275.0 354.1,276.5 355.0,276.5 355.0,277.5 355.9,277.5 355.9,278.3 357.8,278.3 357.8,279.9 360.0,279.9 360.0,281.2 361.6,281.2 361.6,281.9 362.5,281.9 362.5,282.5 364.1,282.5 364.1,284.4 365.1,284.4 365.1,285.7 366.7,285.7 366.7,287.5 368.5,287.5 368.5,288.2 370.7,288.2 370.7,289.1 371.8,289.1 371.8,289.6 373.9,289.6 373.9,290.6 375.1,290.6 375.1,291.2 376.6,291.2 376.6,291.9 378.6,291.9 378.6,293.0 380.7,293.0 380.7,294.2 381.8,294.2 381.8,294.8 383.0,294.8 383.0,295.4 384.4,295.4 384.4,296.2 386.1,296.2 386.1,297.0 387.5,297.0 387.5,297.7 388.7,297.7 388.7,297.9 390.1,297.9 390.1,298.2 392.2,298.2 392.2,298.6 394.0,298.6 394.0,300.1 394.8,300.1 394.8,300.8 396.3,300.8 396.3,302.0 398.2,302.0 398.2,303.2 399.1,303.2 399.1,303.7 401.2,303.7 401.2,304.7 402.4,304.7 402.4,304.9 404.3,304.9 404.3,305.2 406.1,305.2 406.1,305.7 407.7,305.7 407.7,306.8 409.0,306.8 409.0,307.6 410.3,307.6 410.3,308.6 411.9,308.6 411.9,309.8 413.1,309.8 413.1,310.9 414.6,310.9 414.6,312.4 415.5,312.4 415.5,313.8 416.4,313.8 416.4,315.2 417.2,315.2 417.2,315.9 418.8,315.9 418.8,317.0 420.4,317.0 420.4,317.9 421.6,317.9 421.6,318.6 423.3,318.6 423.3,319.8 424.6,319.8 424.6,321.4 426.3,321.4 426.3,321.4 427.6,321.4 427.6,321.4 429.4,321.4 429.4,321.4 430.3,321.4 430.3,321.7 430.7,321.7 430.7,322.9 431.2,322.9 431.2,324.5 432.3,324.5 432.3,324.8 434.0,324.8 434.0,325.2 435.7,325.2 435.7,325.5 436.8,325.5 436.8,325.6 438.8,325.6 438.8,325.7 439.9,325.7 439.9,325.7 442.1,325.7 442.1,325.8 444.4,325.8 444.4,325.9 446.2,325.9 446.2,326.0 446.6,326.0 446.6,326.8 446.9,326.8 446.9,328.5 447.5,328.5 447.5,329.6 450.1,329.6 450.1,329.6 450.6,329.6 450.6,329.6" fill="none" stroke="#000" stroke-width="2.1" stroke-linecap="round" stroke-linejoin="miter"/>
<polyline points="450.6,329.6 458.0,330.8 477.4,331.1 491.4,331.1 491.6,341.4 501.9,341.6 502.1,347.0 515.0,347.0" fill="none" stroke="#000" stroke-width="1.5" stroke-linecap="butt" stroke-linejoin="miter"/>
<polyline points="291.3,211.0 292.4,211.0 292.4,213.1 293.7,213.1 293.7,215.4 294.7,215.4 294.7,217.3 295.8,217.3 295.8,219.3 296.6,219.3 296.6,220.4 298.1,220.4 298.1,222.4 299.1,222.4 299.1,223.9 300.6,223.9 300.6,225.9 302.2,225.9 302.2,227.8 303.1,227.8 303.1,228.7 304.6,228.7 304.6,230.4 306.3,230.4 306.3,232.2 307.0,232.2 307.0,233.1 308.1,233.1 308.1,234.2 309.5,234.2 309.5,235.9 310.3,235.9 310.3,236.8 311.9,236.8 311.9,238.7 312.9,238.7 312.9,239.7 314.4,239.7 314.4,241.5 315.2,241.5 315.2,242.4 316.4,242.4 316.4,243.8 318.0,243.8 318.0,245.6 318.9,245.6 318.9,246.6 319.9,246.6 319.9,247.7 321.1,247.7 321.1,249.0 322.2,249.0 322.2,250.1 322.9,250.1 322.9,250.8 323.8,250.8 323.8,251.7 324.7,251.7 324.7,252.6 326.5,252.6 326.5,254.4 328.2,254.4 328.2,255.6 330.3,255.6 330.3,256.9 330.8,256.9 330.8,258.0 331.4,258.0 331.4,260.1 331.9,260.1 331.9,261.2 332.7,261.2 332.7,262.8 333.7,262.8 333.7,264.6 334.4,264.6 334.4,266.0 335.6,266.0 335.6,268.1 336.5,268.1 336.5,269.8 337.8,269.8 337.8,271.1 339.8,271.1 339.8,272.5 340.9,272.5 340.9,272.8 343.4,272.8 343.4,273.5 345.3,273.5 345.3,274.0 346.9,274.0 346.9,274.3 349.1,274.3 349.1,274.9 350.5,274.9 350.5,275.3 352.6,275.3 352.6,276.6 354.0,276.6 354.0,278.0 355.1,278.0 355.1,279.1 356.6,279.1 356.6,280.8 357.7,280.8 357.7,282.0 358.4,282.0 358.4,283.2 359.5,283.2 359.5,285.0 360.0,285.0 360.0,286.0 361.3,286.0 361.3,287.9 362.2,287.9 362.2,289.0 363.5,289.0 363.5,290.5 365.8,290.5 365.8,291.6 367.6,291.6 367.6,292.4 369.5,292.4 369.5,293.1 370.9,293.1 370.9,293.6 371.8,293.6 371.8,294.0 372.8,294.0 372.8,294.4 373.9,294.4 373.9,295.0 375.6,295.0 375.6,296.1 377.0,296.1 377.0,297.0 378.4,297.0 378.4,298.1 380.3,298.1 380.3,299.6 381.2,299.6 381.2,300.4 382.3,300.4 382.3,301.3 383.9,301.3 383.9,302.6 384.7,302.6 384.7,303.2 385.4,303.2 385.4,303.9 386.5,303.9 386.5,305.0 387.1,305.0 387.1,306.0 387.9,306.0 387.9,307.4 388.4,307.4 388.4,308.6 389.1,308.6 389.1,310.4 391.0,310.4 391.0,310.6 392.4,310.6 392.4,310.8 394.3,310.8 394.3,310.8 396.1,310.8 396.1,310.7 397.3,310.7 397.3,310.6 399.8,310.6 399.8,310.5 401.2,310.5 401.2,310.4 402.1,310.4 402.1,311.2 403.0,311.2 403.0,312.0 404.0,312.0 404.0,313.7 405.9,313.7 405.9,314.6 408.1,314.6 408.1,314.8 409.8,314.8 409.8,314.9 411.2,314.9 411.2,315.0 412.1,315.0 412.1,315.4 413.7,315.4 413.7,316.6 414.5,316.6 414.5,318.3 415.9,318.3 415.9,318.6 417.9,318.6 417.9,318.6 419.6,318.6 419.6,318.6 421.7,318.6 421.7,319.9 422.8,319.9 422.8,320.6" fill="none" stroke="#000" stroke-width="2.0" stroke-linecap="round" stroke-linejoin="miter"/>
<polyline points="458.0,331.1 477.4,331.4 478.5,339.5 479.5,341.8 491.4,341.8" fill="none" stroke="#000" stroke-width="1.5" stroke-linecap="butt" stroke-linejoin="miter" stroke-dasharray="1.4,0.7"/>
<polyline points="291.3,211.0 292.0,211.0 292.0,212.2 293.2,212.2 293.2,214.3 293.8,214.3 293.8,215.2 294.7,215.2 294.7,216.8 295.4,216.8 295.4,218.3 295.9,218.3 295.9,219.6 296.4,219.6 296.4,220.6 297.3,220.6 297.3,222.7 297.7,222.7 297.7,223.6 298.4,223.6 298.4,225.3 299.4,225.3 299.4,227.6 299.9,227.6 299.9,228.8 300.4,228.8 300.4,230.0 301.1,230.0 301.1,231.8 301.8,231.8 301.8,233.5 302.6,233.5 302.6,235.4 303.5,235.4 303.5,237.5 303.9,237.5 303.9,238.7 304.5,238.7 304.5,240.1 305.1,240.1 305.1,241.4 305.5,241.4 305.5,242.4 306.4,242.4 306.4,244.7 307.2,244.7 307.2,246.8 307.9,246.8 307.9,248.8 308.4,248.8 308.4,249.7 309.6,249.7 309.6,251.7 310.8,251.7 310.8,253.5 311.8,253.5 311.8,255.0 313.0,255.0 313.0,256.8 314.1,256.8 314.1,258.2 314.9,258.2 314.9,259.3 315.5,259.3 315.5,260.2 316.4,260.2 316.4,261.3 317.1,261.3 317.1,262.1 318.0,262.1 318.0,263.3 319.4,263.3 319.4,265.0 320.7,265.0 320.7,266.7 322.0,266.7 322.0,268.6 323.3,268.6 323.3,270.4 324.1,270.4 324.1,271.5 325.2,271.5 325.2,273.1 326.2,273.1 326.2,274.4 327.5,274.4 327.5,276.3 328.6,276.3 328.6,277.8 329.5,277.8 329.5,278.9 330.8,278.9 330.8,280.4 332.4,280.4 332.4,282.4 333.2,282.4 333.2,283.5 334.5,283.5 334.5,285.5 335.0,285.5 335.0,286.4 335.8,286.4 335.8,287.5 336.8,287.5 336.8,288.5 338.4,288.5 338.4,290.0 340.3,290.0 340.3,291.7 342.2,291.7 342.2,292.7 343.6,292.7 343.6,293.4 345.5,293.4 345.5,294.7 346.8,294.7 346.8,295.6 347.9,295.6 347.9,296.4 349.7,296.4 349.7,298.2 351.1,298.2 351.1,299.6 351.2,299.6 351.2,299.7" fill="none" stroke="#000" stroke-width="1.7" stroke-linecap="round" stroke-linejoin="miter"/>
<polyline points="351.2,299.7 355.1,304.0 359.6,307.7 362.2,310.6 368.1,312.3 374.1,313.5 378.9,315.2 383.8,318.1 388.4,319.2 394.2,320.4 397.7,323.8 400.0,325.8 402.3,327.2 406.9,328.1 409.2,329.8 412.0,330.7 415.4,330.7 418.0,333.3 419.3,336.3 420.0,339.0" fill="none" stroke="#000" stroke-width="2.0" stroke-linecap="butt" stroke-linejoin="miter" stroke-dasharray="2.2,0.8"/>
<polyline points="436.3,342.9 446.1,343.9 446.4,348.3 447.3,350.6 466.0,350.6 477.4,351.7 490.0,352.5" fill="none" stroke="#000" stroke-width="1.5" stroke-linecap="butt" stroke-linejoin="miter" stroke-dasharray="1.4,0.9"/>
<polyline points="291.3,211.0 293.5,217.0 296.1,225.0 298.2,232.0 300.2,238.3 303.2,248.5 306.1,258.7 307.1,265.0 309.1,268.5 311.0,273.0 313.1,277.7 316.1,285.0 317.5,289.2 323.0,298.5 327.2,304.0 331.2,310.0 333.9,315.0 336.9,319.2 340.0,322.1 344.6,324.4 349.2,326.1 352.7,329.0 357.3,330.8 363.1,333.1 367.7,335.4 372.3,336.5 380.4,337.1 383.8,338.3 391.9,338.8 405.0,339.0" fill="none" stroke="#000" stroke-width="1.9" stroke-linecap="butt" stroke-linejoin="miter" stroke-dasharray="3.6,1.0"/>
<polyline points="405.0,339.0 433.7,339.4 436.3,342.9 443.3,343.3 466.2,343.6 467.2,346.6 476.4,347.7 477.4,352.2 515.0,352.6" fill="none" stroke="#000" stroke-width="1.6" stroke-linecap="butt" stroke-linejoin="miter" stroke-dasharray="3.2,1.2"/>
<circle cx="308.2" cy="210.8" r="1.3" fill="#bbb"/>
<line x1="400" y1="251.2" x2="376.59" y2="262.33" stroke="#111" stroke-width="1.2"/>
<polygon points="373.7,263.7 375.90,260.88 377.28,263.77" fill="#111"/>
<line x1="421.9" y1="281.2" x2="395.63" y2="292.81" stroke="#111" stroke-width="1.2"/>
<polygon points="392.7,294.1 394.98,291.34 396.27,294.27" fill="#111"/>
<line x1="456.5" y1="292.7" x2="390.42" y2="307.50" stroke="#111" stroke-width="1.2"/>
<polygon points="387.3,308.2 390.07,305.94 390.77,309.06" fill="#111"/>
<line x1="317.3" y1="307.7" x2="336.96" y2="295.76" stroke="#111" stroke-width="1.2"/>
<polygon points="339.7,294.1 337.80,297.13 336.13,294.39" fill="#111"/>
<line x1="356" y1="343.8" x2="365.08" y2="337.44" stroke="#111" stroke-width="1.2"/>
<polygon points="367.7,335.6 366.00,338.75 364.16,336.13" fill="#111"/>
</svg>
</body></html>
